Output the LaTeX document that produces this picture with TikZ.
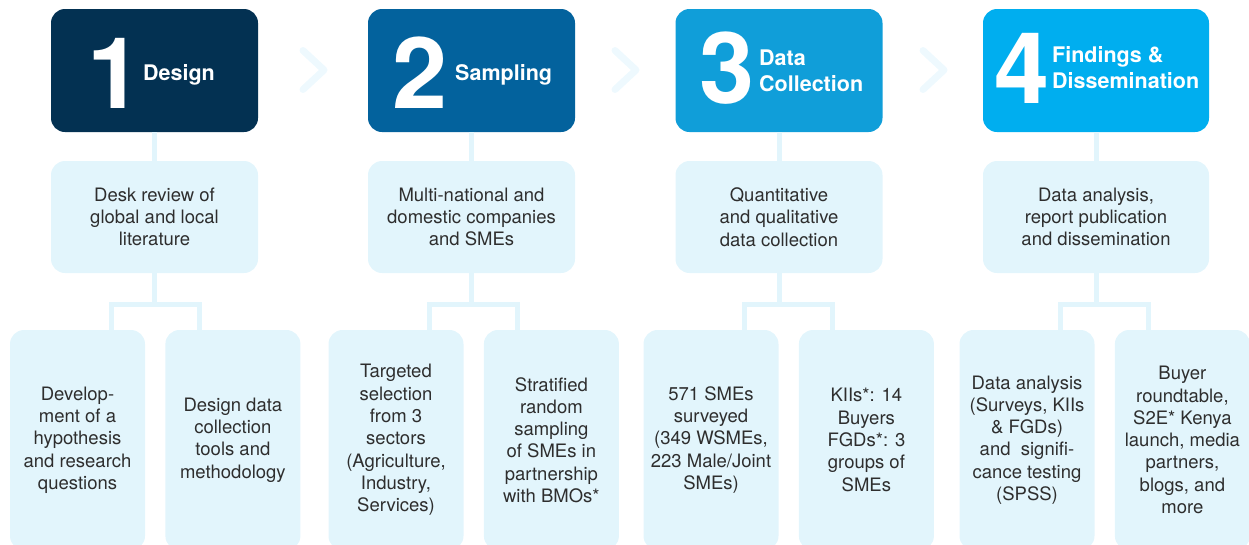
\documentclass[tikz,border=0pt]{standalone}
\usepackage{fontspec}
\setmainfont{TeX Gyre Heros}
\usetikzlibrary{positioning}

\definecolor{stepone}{HTML}{033152}
\definecolor{steptwo}{HTML}{03629D}
\definecolor{stepthree}{HTML}{109ED9}
\definecolor{stepfour}{HTML}{00AEEF}
\definecolor{pale}{HTML}{E2F5FC}
\definecolor{chevron}{HTML}{EEF9FE}
\definecolor{ink}{HTML}{2E2E2E}

\tikzset{
  head/.style={rounded corners=14pt, minimum width=207pt, minimum height=123pt, inner sep=0pt},
  bignum/.style={font=\bfseries\fontsize{99}{99}\selectfont, text=white, inner sep=0pt},
  headtitle/.style={font=\bfseries\fontsize{21.5}{26}\selectfont, text=white, align=left, inner sep=0pt},
  midbox/.style={fill=pale, rounded corners=14pt, minimum width=207pt, minimum height=112pt,
    inner sep=0pt, align=center, text=ink, font=\fontsize{18.5}{22.3}\selectfont},
  leaf/.style={midbox, minimum width=135pt, minimum height=220pt},
  link/.style={draw=pale, line width=5pt},
  chev/.style={draw=chevron, line width=7pt, line cap=round, line join=round}
}

\begin{document}
\begin{tikzpicture}[x=1pt, y=-1pt]
\useasboundingbox (0,0) rectangle (1249,544);

% the four steps
\node (top1) [head, fill=stepone] at (154.5,70.5) {};
\node (top2) [head, fill=steptwo] at (471.5,70.5) {};
\node (top3) [head, fill=stepthree] at (779,70.5) {};
\node (top4) [head, fill=stepfour, minimum width=226pt] at (1096,70.5) {};

\node (n1) [bignum, anchor=base west] at (87,108) {1};
\node (t1) [headtitle, anchor=base west] at (143,80) {Design};
\node (n2) [bignum, anchor=base west] at (392,108) {2};
\node (t2) [headtitle, anchor=base west] at (455,80) {Sampling};
\node (n3) [bignum, anchor=base west] at (699,103) {3};
\node (t3) [headtitle, anchor=west] at (759,71) {Data\\Collection};
\node (n4) [bignum, anchor=base west] at (994,103) {4};
\node (t4) [headtitle, anchor=west] at (1052,68) {Findings \&\\Dissemination};

\foreach \cx in {314,626,934}
  \draw[chev] (\cx-11,50.5) -- (\cx+10,70) -- (\cx-11,89.5);

% second row
\node (mid1) [midbox] at (154.5,217) {Desk review of\\global and local\\literature};
\node (mid2) [midbox] at (471.5,217) {Multi-national and\\domestic companies\\and SMEs};
\node (mid3) [midbox] at (779,217) {Quantitative\\and qualitative\\data collection};
\node (mid4) [midbox, minimum width=226pt] at (1096,217) {Data analysis,\\report publication\\and dissemination};

% third row
\node (a1) [leaf] at (77.5,440) {Develop-\\ment of a\\hypothesis\\and research\\questions};
\node (b1) [leaf, right=20pt of a1] {Design data\\collection\\tools and\\methodology};
\node (a2) [leaf] at (396,440) {Targeted\\selection\\from 3\\sectors\\(Agriculture,\\Industry,\\Services)};
\node (b2) [leaf, right=20pt of a2] {Stratified\\random\\sampling\\of SMEs in\\partnership\\with BMOs*};
\node (a3) [leaf] at (711,440) {571 SMEs\\surveyed\\(349 WSMEs,\\223 Male/Joint\\SMEs)};
\node (b3) [leaf, right=20pt of a3] {KIIs*: 14\\Buyers\\FGDs*: 3\\groups of\\SMEs};
\node (a4) [leaf] at (1027,440) {Data analysis\\(Surveys, KIIs\\\& FGDs)\\and~ signifi-\\cance testing\\(SPSS)};
\node (b4) [leaf, right=20pt of a4] {Buyer\\roundtable,\\S2E* Kenya\\launch, media\\partners,\\blogs, and\\more};

\foreach \i in {1,...,4} {
  \draw[link] (top\i) -- (mid\i);
  \draw[link] (mid\i.south) -- ++(0,31.5) coordinate (j\i);
  \draw[link] ([xshift=-34pt]a\i.north east) |- (j\i) -| ([xshift=34pt]b\i.north west);
}
\end{tikzpicture}
\end{document}
